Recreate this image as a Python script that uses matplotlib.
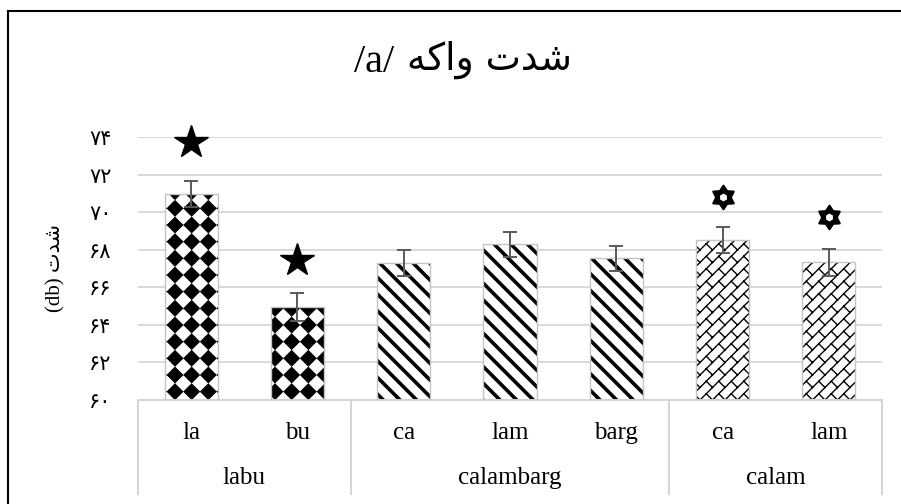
import numpy as np
import matplotlib
matplotlib.use('Agg')
import matplotlib.pyplot as plt
import matplotlib.hatch as mhatch
import matplotlib.transforms as mtrans
from matplotlib.path import Path
from matplotlib.lines import Line2D

# ---------------- data ----------------
groups = ['labu', 'calambarg', 'calam']
group_sizes = [2, 3, 2]
categories = ['la', 'bu', 'ca', 'lam', 'barg', 'ca', 'lam']
values = [70.96, 64.96, 67.30, 68.28, 67.54, 68.51, 67.32]
errors = [0.69, 0.75, 0.68, 0.67, 0.65, 0.71, 0.70]
star_values = [73.74, 67.45, None, None, None, None, None]
flower_values = [None, None, None, None, None, 70.78, 69.75]
yticks = [60, 62, 64, 66, 68, 70, 72, 74]
ytick_labels = ['۶۰', '۶۲', '۶۴', '۶۶', '۶۸', '۷۰', '۷۲', '۷۴']
group_hatches = ['O', '\\\\', 'o']
# visual (shaped, left-to-right) forms of the Persian text
title_latin = '/a/'
title_persian = '\uFEEA\uFB90\uFE8D\uFEED \uFE95\uFEAA\uFEB7'
ylabel_text = '(db) \uFE95\uFEAA\uFEB7'


# ---------------- custom hatch textures ----------------
class DiamondGrid(mhatch.HatchPatternBase):
    def __init__(self, hatch, density):
        self.n = hatch.count('O') * density
        self.num_vertices = self.n * self.n * 5

    def set_vertices_and_codes(self, vertices, codes):
        n = self.n
        r = 0.45 / n
        base = np.array([[0, -r], [r, 0], [0, r], [-r, 0], [0, -r]])
        bc = [Path.MOVETO, Path.LINETO, Path.LINETO, Path.LINETO, Path.CLOSEPOLY]
        k = 0
        for i in range(n):
            for j in range(n):
                c = np.array([(i + 0.5) / n, (j + 0.5) / n])
                vertices[k:k + 5] = base + c
                codes[k:k + 5] = bc
                k += 5


class DiagBrick(mhatch.HatchPatternBase):
    def __init__(self, hatch, density):
        n = (hatch.count('o') * density * 4) // 3
        n += n % 2
        self.n = n
        segs = []
        if n:
            for m in range(-n, n + 1):
                c = m / n
                segs.append(((-0.5, -0.5 + c), (1.5, 1.5 + c)))
            for m in range(-n - 1, n + 1):
                c0 = m / n
                c1 = (m + 1) / n
                off = (m % 2) * (1.0 / n)
                for j in range(-n, 2 * n + 1):
                    s = j * 2.0 / n + off
                    segs.append((((s - c0) / 2, (s + c0) / 2),
                                 ((s - c1) / 2, (s + c1) / 2)))
        self.segs = segs
        self.num_vertices = len(segs) * 2

    def set_vertices_and_codes(self, vertices, codes):
        for i, (a, b) in enumerate(self.segs):
            vertices[2 * i] = a
            vertices[2 * i + 1] = b
            codes[2 * i] = Path.MOVETO
            codes[2 * i + 1] = Path.LINETO


mhatch._hatch_types[:] = [h for h in mhatch._hatch_types
                          if h.__name__ not in ('LargeCircles', 'SmallCircles')]
mhatch._hatch_types.extend([DiamondGrid, DiagBrick])

# ---------------- figure ----------------
serif = ['Liberation Serif', 'DejaVu Sans']
fig = plt.figure(figsize=(9.01, 5.04), dpi=100)
ax = fig.add_axes([138 / 901, 1 - 400 / 504, 744 / 901, 263 / 504])

x = np.arange(len(categories))
cat_hatch = []
for g, size in enumerate(group_sizes):
    cat_hatch += [group_hatches[g]] * size
hatch_lw = {'O': 1.0, '\\\\': 2.6, 'o': 1.0}

bars = ax.bar(x, np.array(values) - 60, bottom=60, width=0.5,
              color='white', edgecolor='black', linewidth=0, zorder=2)
for b, h in zip(bars, cat_hatch):
    b.set_hatch(h)
    try:
        b.set_hatch_linewidth(hatch_lw[h])
    except AttributeError:
        pass
ax.bar(x, np.array(values) - 60, bottom=60, width=0.5, fill=False,
       edgecolor='#c4c4c4', linewidth=1.0, zorder=3)

ax.errorbar(x, values, yerr=errors, fmt='none', ecolor='#5a5a5a',
            elinewidth=1.4, capsize=5, capthick=1.4, zorder=4)

sx = [i for i, v in enumerate(star_values) if v is not None]
sy = [v for v in star_values if v is not None]
ax.plot(sx, sy, ls='none', marker='*', ms=25, color='black', clip_on=False, zorder=5)

fx = [i for i, v in enumerate(flower_values) if v is not None]
fy = [v for v in flower_values if v is not None]
flower = Path.unit_regular_star(6, 0.62)
ax.plot(fx, fy, ls='none', marker=flower, ms=17, color='black',
        mec='black', mew=1.5, clip_on=False, zorder=5)
ax.plot(fx, fy, ls='none', marker='h', ms=4.5, color='white',
        mec='white', clip_on=False, zorder=6)

ax.set_xlim(-0.5, len(categories) - 0.5)
ax.set_ylim(yticks[0], yticks[-1])
ax.set_yticks(yticks)
ax.set_yticklabels(ytick_labels, fontsize=15, family=['DejaVu Sans'])
ax.tick_params(axis='y', length=0, pad=19)
ax.set_xticks([])
ax.yaxis.grid(True, color='#d9d9d9', linewidth=1.4, zorder=0)
ax.set_axisbelow(True)
for s in ('top', 'right', 'left'):
    ax.spines[s].set_visible(False)
ax.spines['bottom'].set_color('#d4d4d4')
ax.spines['bottom'].set_linewidth(1.4)

trans = mtrans.blended_transform_factory(ax.transData, ax.transAxes)
ax_h = 263.0
for i, c in enumerate(categories):
    ax.text(i, -(433 - 400) / ax_h, c, transform=trans, ha='center', va='center',
            fontsize=18, family=serif)
start = 0
bounds = [-0.5]
for g, size in zip(groups, group_sizes):
    center = start + (size - 1) / 2
    ax.text(center, -(478 - 400) / ax_h, g, transform=trans, ha='center',
            va='center', fontsize=18, family=serif)
    start += size
    bounds.append(start - 0.5)
for bx in bounds:
    ax.add_line(Line2D([bx, bx], [0, -(494 - 400) / ax_h], transform=trans,
                       color='#d4d4d4', linewidth=1.4, clip_on=False))

# title: Latin part and Persian part side by side
fig.text(394 / 901, 1 - 62 / 504, title_latin, ha='right', va='center',
         fontsize=29, family=serif)
fig.text(407 / 901, 1 - 60 / 504, title_persian, ha='left', va='center',
         fontsize=27, family=['DejaVu Sans'])
fig.text(56 / 901, 1 - 268 / 504, ylabel_text, ha='center', va='center',
         rotation=90, fontsize=15, family=serif)

# outer frame (left and top edges)
fig.add_artist(Line2D([7.5 / 901, 7.5 / 901], [0, 1 - 11 / 504], color='black',
                      linewidth=1.5, transform=fig.transFigure))
fig.add_artist(Line2D([7.5 / 901, 1], [1 - 11 / 504, 1 - 11 / 504], color='black',
                      linewidth=1.5, transform=fig.transFigure))

fig.savefig('out.png', dpi=100)
